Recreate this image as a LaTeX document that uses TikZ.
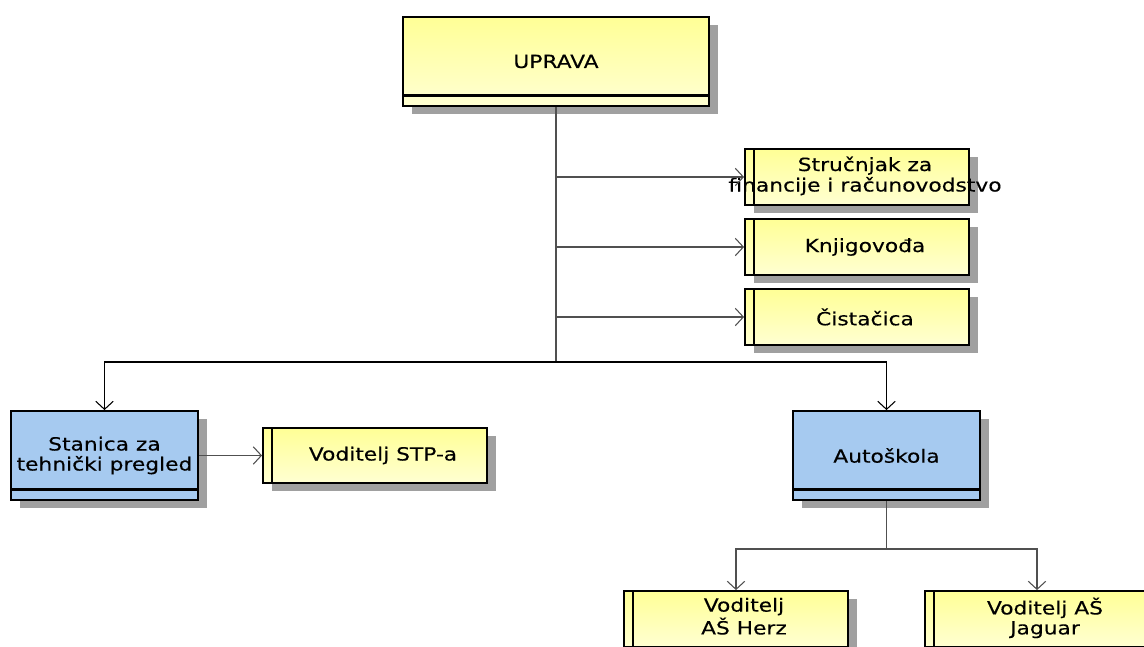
\documentclass[tikz,border=0pt]{standalone}
\usepackage{fontspec}
\setmainfont{DejaVu Sans}[FakeStretch=1.2,FakeBold=0.25]
\usetikzlibrary{shadows,arrows.meta}
\definecolor{ytop}{HTML}{FFFF96}
\definecolor{ybot}{HTML}{FFFFD2}
\definecolor{bfill}{HTML}{A6CAF0}
\definecolor{shgray}{HTML}{A0A0A0}
\definecolor{lc}{HTML}{505050}
\begin{document}
\begin{tikzpicture}[x=0.75pt,y=-0.75pt,
  every node/.style={font=\fontsize{13.6pt}{15pt}\selectfont},
  box/.style={draw=black, line width=1.4pt, inner sep=0pt,
    drop shadow={shadow xshift=6.75pt, shadow yshift=-6pt, fill=shgray, opacity=1}},
  ybox/.style={box, top color=ytop, bottom color=ybot},
  bbox/.style={box, fill=bfill},
  strip/.style={path picture={\draw[line width=1.6pt]
      ([yshift=7.9pt]path picture bounding box.south west) --
      ([yshift=7.9pt]path picture bounding box.south east);}},
  unitbox/.style={minimum width=187*0.75pt, minimum height=89*0.75pt, strip, align=center},
  leaf/.style={ybox, minimum width=224*0.75pt, minimum height=56*0.75pt,
    path picture={\draw[line width=1.5pt]
      ([xshift=6.75pt]path picture bounding box.south west) --
      ([xshift=6.75pt]path picture bounding box.north west);}},
  trunk/.style={draw=lc, line width=0.8pt},
  conn/.style={trunk, -{Straight Barb[length=6pt,width=13pt]}}
]
\useasboundingbox (0,0) rectangle (1144,646);
\clip (0,0) rectangle (1144,646);

% nodes
\node[ybox, strip, minimum width=306*0.75pt, minimum height=89*0.75pt] (uprava) at (556,61.5) {UPRAVA};
\node[leaf] (strucnjak) at (857,177) {\hspace*{12pt}\raisebox{-4pt}{\begin{tabular}{@{}c@{}}Stručnjak za\\\makebox[0pt]{financije i računovodstvo}\end{tabular}}};
\node[leaf] (knjig) at (857,247) {\hspace*{12pt}Knjigovođa};
\node[leaf] (cist) at (857,317) {\hspace*{12pt}Čistačica};
\node[bbox, unitbox] (stanica) at (104.5,455.5) {Stanica za\\tehnički pregled};
\node[leaf, minimum height=55*0.75pt] (stp) at (375,455.5) {\hspace*{12pt}Voditelj STP-a};
\node[bbox, unitbox] (auto) at (886.5,455.5) {Autoškola};
\node[leaf] (herz) at (736,619) {\hspace*{12pt}\begin{tabular}{@{}c@{}}Voditelj\\AŠ Herz\end{tabular}};
\node[leaf] (jaguar) at (1037,619) {\hspace*{12pt}\begin{tabular}{@{}c@{}}Voditelj AŠ\\Jaguar\end{tabular}};

% connectors
\coordinate (hub) at (556,362);
\coordinate (asub) at (886.5,549);
\draw[trunk] (uprava.south) -- (hub);
\draw[conn] (strucnjak.west -| hub) -- (strucnjak.west);
\draw[conn] (knjig.west -| hub) -- (knjig.west);
\draw[conn] (cist.west -| hub) -- (cist.west);
\draw[conn, draw=black] (hub) -| (stanica.north);
\draw[conn, draw=black] (hub) -| (auto.north);
\draw[conn] (stanica) -- (stp);
\draw[trunk] (auto.south) -- (asub);
\draw[conn] (asub) -| (herz.north);
\draw[conn] (asub) -| (jaguar.north);
\end{tikzpicture}
\end{document}
